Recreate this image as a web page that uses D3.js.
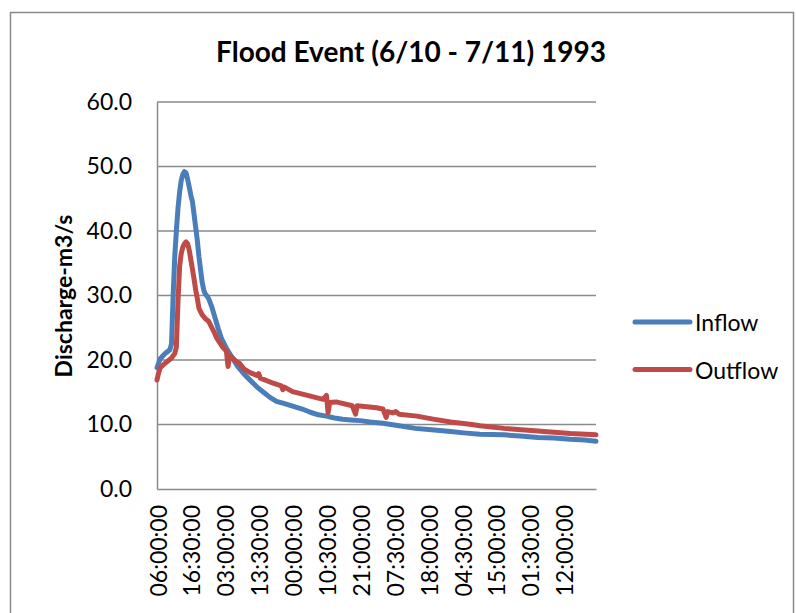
<!DOCTYPE html>
<html>
<head>
<meta charset="utf-8">
<script src="https://cdn.jsdelivr.net/npm/d3@7"></script>
<style>
  body { margin: 0; background: #fff; }
  text { font-family: Lato, "Open Sans", sans-serif; fill: #000; }
</style>
</head>
<body>
<div id="canvas"></div>
<script>
// half-hour steps from 06:00:00, label every 21 steps
var tickLabels = ['06:00:00','16:30:00','03:00:00','13:30:00','00:00:00','10:30:00','21:00:00',
                  '07:30:00','18:00:00','04:30:00','15:00:00','01:30:00','12:00:00'];
var tickEvery = 21,
    lastStep = 272;
var yTicks = [0, 10, 20, 30, 40, 50, 60];

// [step, discharge]
var inflow = [[0,18.8],[2,20.2],[5,21.0],[8,21.6],[9,22.5],[10,30],[11,36],[12,40],[13,43.5],[14,46],
  [15,47.8],[16,48.8],[17,49.2],[18,49.0],[19,48.0],[20,46.8],[21,45.5],[22,44.5],[23,42.5],[24,40.5],
  [25,38.5],[26,36],[27,34],[28,32],[29,30.8],[30,30.2],[31,29.9],[32,29.5],[34,28.2],[36,26.5],
  [38,24.8],[40,23.3],[43,21.8],[46,20.6],[50,19.0],[54,17.8],[58,16.8],[62,15.8],[66,15.0],[70,14.2],
  [74,13.6],[78,13.3],[82,13.0],[86,12.7],[90,12.4],[95,11.9],[100,11.5],[105,11.3],[110,11.0],[115,10.8],
  [120,10.7],[126,10.6],[132,10.4],[140,10.2],[150,9.8],[160,9.4],[170,9.2],[182,8.9],[190,8.7],[200,8.5],
  [215,8.4],[225,8.2],[236,8.0],[246,7.9],[256,7.7],[265,7.6],[272,7.4]];

var outflow = [[0,16.9],[1,18.0],[2,18.8],[5,19.5],[9,20.3],[11,21.0],[12,22.0],[13,29],[14,34.5],[15,36.5],
  [16,37.5],[17,38.0],[18,38.3],[19,38.0],[20,37],[21,35.5],[22,34],[23,32.5],[24,30.8],[25,29.5],
  [26,28],[28,27],[30,26.4],[32,26.0],[34,25.0],[36,24.0],[37,23.4],[41,21.9],[43,21.4],[44,19.0],
  [45,20.6],[46,20.5],[49,19.8],[51,19.5],[54,18.6],[58,18.0],[62,17.6],[63,17.9],[64,17.2],[66,17.0],
  [72,16.4],[77,16.0],[78,15.4],[79,15.8],[84,15.1],[92,14.6],[103,13.9],[105,14.5],[106,11.8],[107,13.4],
  [111,13.5],[121,12.9],[123,11.6],[124,12.9],[136,12.6],[140,12.4],[142,11.1],[143,12.0],[146,11.8],[148,12.0],
  [150,11.6],[161,11.3],[172,10.8],[182,10.4],[195,10.0],[200,9.8],[215,9.4],[236,9.0],[256,8.6],[272,8.4]];

var series = [
  {name: 'Inflow', values: inflow, color: '#4a7ebb'},
  {name: 'Outflow', values: outflow, color: '#be4b48'}
];

var W = 796, H = 613;

var svg = d3.select('#canvas')
  .append('svg')
  .attr('width', W)
  .attr('height', H);

// chart frame
svg.append('rect')
  .attr('x', 10.5).attr('y', 12.5)
  .attr('width', 783).attr('height', 700)
  .attr('fill', 'none')
  .attr('stroke', '#8a8a8a')
  .attr('stroke-width', 1.5);

var scaleX = d3.scaleLinear()
  .domain([0, lastStep])
  .range([157, 596]);
var scaleY = d3.scaleLinear()
  .domain([0, 60])
  .range([489, 102]);

// gridlines
var grid = svg.append('g').attr('class', 'grid');
grid.selectAll('line')
  .data(yTicks.filter(function(d){ return d > 0; }))
  .enter()
  .append('line')
  .attr('x1', 157).attr('x2', 596)
  .attr('y1', function(d){ return scaleY(d); })
  .attr('y2', function(d){ return scaleY(d); })
  .attr('stroke', '#8a8a8a')
  .attr('stroke-width', 1.5);

// axes
var axisY = d3.axisLeft(scaleY)
  .tickValues(yTicks)
  .tickSize(0)
  .tickPadding(25)
  .tickFormat(d3.format('.1f'));
var gy = svg.append('g')
  .attr('transform', 'translate(157,0)')
  .call(axisY);
gy.select('.domain').attr('stroke', '#8a8a8a').attr('stroke-width', 1.5);
gy.selectAll('text')
  .style('font-family', 'Lato, sans-serif')
  .style('font-size', '23px')
  .attr('fill', '#000');

var axisX = d3.axisBottom(scaleX)
  .tickValues(tickLabels.map(function(d, i){ return i * tickEvery; }))
  .tickSize(0)
  .tickFormat(function(d){ return tickLabels[d / tickEvery]; });
var gx = svg.append('g')
  .attr('transform', 'translate(0,489)')
  .call(axisX);
gx.select('.domain').attr('stroke', '#8a8a8a').attr('stroke-width', 1.5);
gx.selectAll('text')
  .style('font-family', 'Lato, sans-serif')
  .style('font-size', '23px')
  .attr('fill', '#000')
  .attr('transform', 'rotate(-90)')
  .attr('text-anchor', 'end')
  .attr('dy', '0.35em')
  .attr('x', -16)
  .attr('y', 1);

// lines
var line = d3.line()
  .x(function(d){ return scaleX(d[0]); })
  .y(function(d){ return scaleY(d[1]); });

svg.append('g').selectAll('path')
  .data(series)
  .enter()
  .append('path')
  .attr('d', function(d){ return line(d.values); })
  .attr('fill', 'none')
  .attr('stroke', function(d){ return d.color; })
  .attr('stroke-width', 5)
  .attr('stroke-linejoin', 'round')
  .attr('stroke-linecap', 'round');

// title
svg.append('text')
  .attr('x', 411).attr('y', 51)
  .attr('text-anchor', 'middle')
  .attr('dominant-baseline', 'central')
  .style('font-size', '28px')
  .style('font-weight', 'bold')
  .text('Flood Event (6/10 - 7/11) 1993');

// y title
svg.append('text')
  .attr('transform', 'translate(63,296) rotate(-90)')
  .attr('text-anchor', 'middle')
  .attr('dominant-baseline', 'central')
  .style('font-size', '23px')
  .style('font-weight', 'bold')
  .text('Discharge-m3/s');

// legend
var legend = svg.append('g').selectAll('g')
  .data(series)
  .enter()
  .append('g')
  .attr('transform', function(d, i){ return 'translate(635,' + (322 + i * 47.5) + ')'; });
legend.append('line')
  .attr('x1', 0).attr('x2', 55)
  .attr('stroke', function(d){ return d.color; })
  .attr('stroke-width', 5)
  .attr('stroke-linecap', 'round');
legend.append('text')
  .attr('x', 60)
  .attr('dominant-baseline', 'central')
  .style('font-size', '23px')
  .text(function(d){ return d.name; });
</script>
</body>
</html>
